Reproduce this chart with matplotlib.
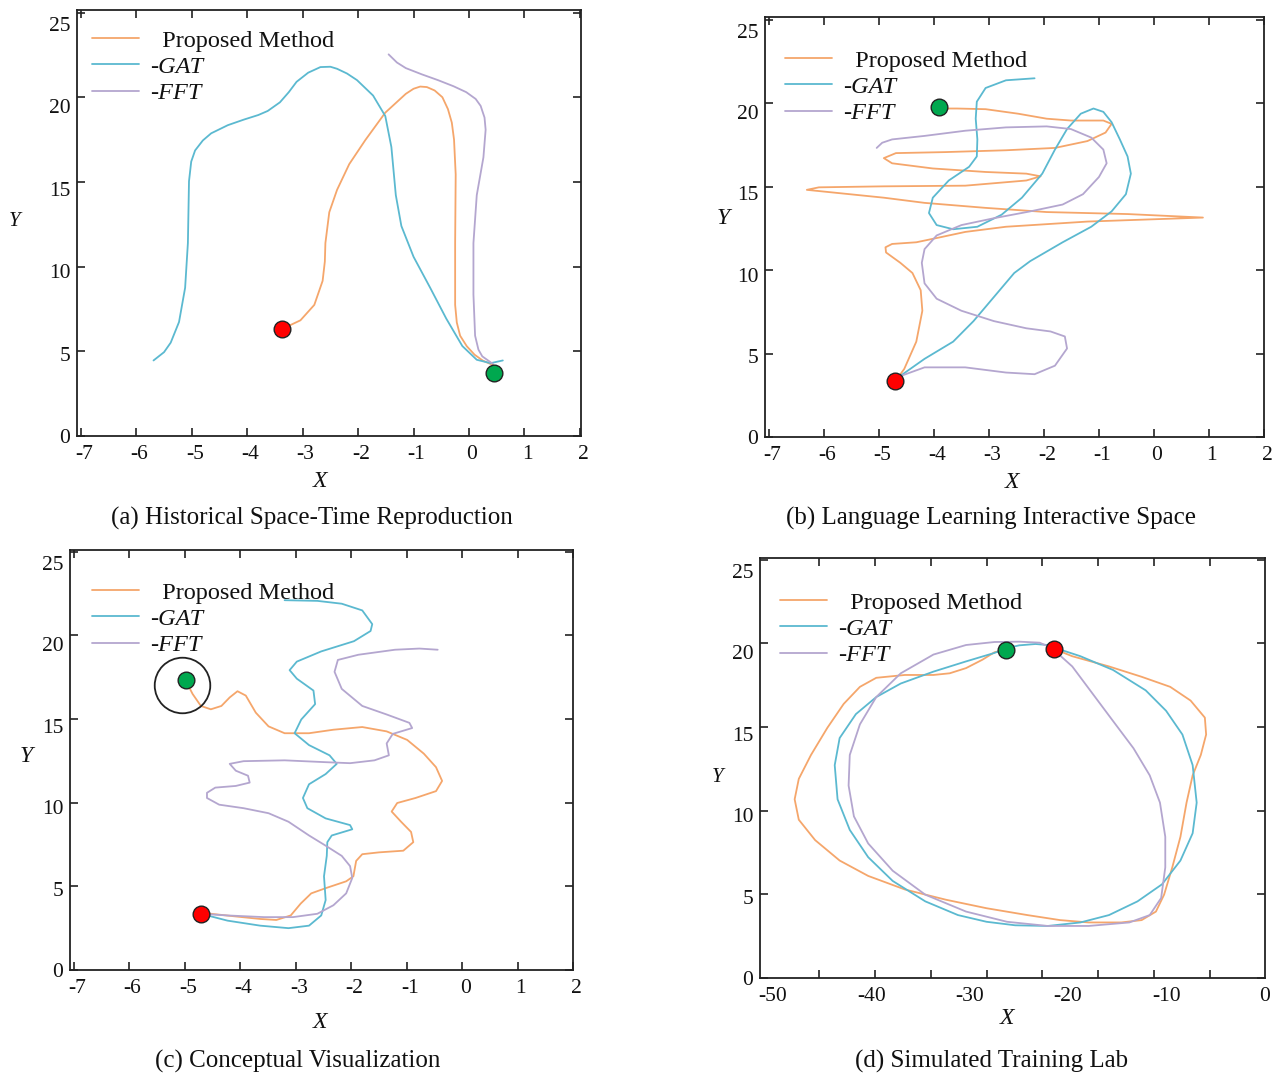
import numpy as np
import matplotlib
matplotlib.use("Agg")
import matplotlib.pyplot as plt
from matplotlib.transforms import ScaledTranslation

plt.rcParams['font.family'] = ['Liberation Serif', 'DejaVu Serif']
plt.rcParams['axes.unicode_minus'] = False

# ---------------- data ----------------
LEGEND_LABELS = ['  Proposed Method', '-GAT', '-FFT']
CAPTIONS = ['(a) Historical Space-Time Reproduction',
            '(b) Language Learning Interactive Space',
            '(c) Conceptual Visualization',
            '(d) Simulated Training Lab']
XTICKS_ABC = [-7, -6, -5, -4, -3, -2, -1, 0, 1, 2]
XTICKS_D = [-50, -40, -30, -20, -10, 0]
YTICKS = [0, 5, 10, 15, 20, 25]

# panel (a)
A_START = (-3.37, 6.32)
A_GOAL = (0.45, 3.73)
A_PROP = [(-3.37, 6.32), (-3.04, 6.83), (-2.79, 7.74), (-2.64, 9.16), (-2.60, 10.3), (-2.59, 11.39),
          (-2.52, 13.21), (-2.38, 14.53), (-2.16, 16.05), (-1.87, 17.47), (-1.51, 19.09), (-1.14, 20.20),
          (-1.00, 20.50), (-0.88, 20.63), (-0.76, 20.60), (-0.62, 20.40), (-0.48, 20.00), (-0.38, 19.30),
          (-0.31, 18.50), (-0.27, 17.50), (-0.24, 15.44), (-0.25, 11.39), (-0.25, 7.74), (-0.22, 6.70),
          (-0.16, 5.92), (-0.04, 5.30), (0.10, 4.80), (0.25, 4.45), (0.43, 4.19)]
A_GAT = [(-5.69, 4.46), (-5.50, 4.95), (-5.38, 5.51), (-5.23, 6.73), (-5.12, 8.75), (-5.07, 11.39),
         (-5.05, 15.04), (-5.01, 16.20), (-4.94, 16.86), (-4.80, 17.45), (-4.65, 17.87), (-4.35, 18.35),
         (-4.06, 18.68), (-3.80, 18.95), (-3.63, 19.19), (-3.41, 19.70), (-3.25, 20.30), (-3.11, 20.91),
         (-2.90, 21.45), (-2.68, 21.78), (-2.50, 21.80), (-2.38, 21.68), (-2.20, 21.40), (-2.02, 21.01),
         (-1.73, 20.10), (-1.51, 18.89), (-1.40, 17.06), (-1.32, 14.22), (-1.22, 12.40), (-1.00, 10.58),
         (-0.70, 8.75), (-0.41, 6.93), (-0.12, 5.31), (0.14, 4.50), (0.39, 4.30), (0.61, 4.46)]
A_FFT = [(-1.45, 22.53), (-1.30, 22.05), (-1.14, 21.72), (-0.85, 21.35), (-0.56, 21.01), (-0.28, 20.65),
         (-0.05, 20.30), (0.12, 19.90), (0.21, 19.49), (0.28, 18.80), (0.30, 18.08), (0.26, 16.45),
         (0.14, 14.22), (0.08, 11.39), (0.08, 8.35), (0.11, 5.92), (0.17, 5.10), (0.24, 4.70), (0.43, 4.26)]

# panel (b)
B_START = (-4.70, 3.35)
B_GOAL = (-3.91, 19.77)
B_PROP = [(-4.70, 3.35), (-4.54, 4.07), (-4.32, 5.71), (-4.21, 7.56), (-4.24, 8.79), (-4.39, 9.82),
          (-4.61, 10.43), (-4.87, 11.05), (-4.88, 11.36), (-4.76, 11.56), (-4.32, 11.66), (-3.87, 11.97),
          (-3.43, 12.28), (-2.69, 12.59), (-1.21, 12.90), (0.89, 13.14), (-0.48, 13.35), (-1.95, 13.47),
          (-3.06, 13.72), (-4.17, 14.02), (-4.91, 14.33), (-6.01, 14.70), (-6.31, 14.80), (-6.09, 14.95),
          (-4.91, 15.01), (-3.43, 15.05), (-2.32, 15.36), (-2.06, 15.61), (-2.32, 15.77), (-3.06, 15.87),
          (-4.02, 16.08), (-4.76, 16.39), (-4.91, 16.70), (-4.69, 17.00), (-3.80, 17.06), (-2.69, 17.17),
          (-1.80, 17.31), (-1.21, 17.72), (-0.88, 18.23), (-0.77, 18.75), (-0.92, 18.95), (-1.51, 18.95),
          (-1.95, 19.06), (-2.47, 19.36), (-3.06, 19.63), (-3.58, 19.67), (-3.84, 19.67)]
B_GAT = [(-4.70, 3.45), (-4.17, 4.68), (-3.65, 5.71), (-3.28, 6.94), (-2.91, 8.38), (-2.54, 9.82),
         (-2.25, 10.53), (-1.66, 11.66), (-1.14, 12.59), (-0.77, 13.51), (-0.51, 14.54), (-0.42, 15.77),
         (-0.48, 16.80), (-0.62, 17.82), (-0.77, 18.85), (-0.92, 19.47), (-1.10, 19.67), (-1.33, 19.36),
         (-1.58, 18.44), (-1.80, 17.21), (-2.03, 15.77), (-2.40, 14.33), (-2.77, 13.31), (-3.21, 12.59),
         (-3.65, 12.44), (-3.95, 12.69), (-4.09, 13.41), (-4.02, 14.33), (-3.73, 15.36), (-3.36, 16.18),
         (-3.22, 16.80), (-3.21, 17.82), (-3.24, 19.06), (-3.22, 20.08), (-3.06, 20.90), (-2.69, 21.36),
         (-2.17, 21.48)]
B_FFT = [(-4.69, 3.55), (-4.17, 4.17), (-3.43, 4.17), (-2.69, 3.86), (-2.17, 3.76), (-1.80, 4.27),
         (-1.58, 5.30), (-1.62, 6.02), (-1.88, 6.32), (-2.32, 6.51), (-2.91, 6.94), (-3.50, 7.56),
         (-3.95, 8.28), (-4.17, 9.20), (-4.22, 10.43), (-4.17, 11.25), (-3.95, 12.07), (-3.50, 12.69),
         (-2.91, 13.10), (-2.25, 13.51), (-1.66, 13.92), (-1.29, 14.54), (-1.00, 15.57), (-0.86, 16.39),
         (-0.92, 17.21), (-1.14, 17.93), (-1.51, 18.44), (-1.95, 18.60), (-2.69, 18.54), (-3.43, 18.34),
         (-4.17, 18.03), (-4.76, 17.82), (-4.94, 17.62), (-5.04, 17.31)]

# panel (c)
C_START = (-4.71, 3.36)
C_GOAL = (-4.97, 17.35)
C_RING = (-5.05, 17.05)
C_PROP = [(-4.97, 17.21), (-4.86, 16.50), (-4.71, 15.78), (-4.53, 15.58), (-4.34, 15.78), (-4.19, 16.29),
          (-4.05, 16.66), (-3.90, 16.40), (-3.72, 15.38), (-3.49, 14.56), (-3.20, 14.15), (-2.76, 14.15),
          (-2.32, 14.36), (-1.80, 14.52), (-1.36, 14.26), (-0.99, 13.75), (-0.69, 12.93), (-0.47, 12.12),
          (-0.36, 11.30), (-0.47, 10.69), (-0.84, 10.28), (-1.17, 9.98), (-1.27, 9.47), (-1.10, 8.86),
          (-0.92, 8.25), (-0.88, 7.64), (-1.06, 7.13), (-1.50, 7.03), (-1.80, 6.92), (-1.91, 6.52),
          (-1.96, 5.60), (-2.09, 5.30), (-2.46, 4.89), (-2.72, 4.58), (-2.91, 3.97), (-3.09, 3.26),
          (-3.35, 2.99), (-3.64, 3.05), (-4.08, 3.20), (-4.53, 3.36), (-4.71, 3.36)]
C_GAT = [(-4.71, 3.36), (-4.23, 2.95), (-3.64, 2.65), (-3.13, 2.50), (-2.76, 2.65), (-2.54, 3.26),
         (-2.46, 4.18), (-2.49, 5.60), (-2.44, 6.82), (-2.43, 7.64), (-2.35, 8.04), (-1.98, 8.41),
         (-2.02, 8.66), (-2.46, 9.06), (-2.79, 9.67), (-2.87, 10.28), (-2.76, 11.10), (-2.46, 11.71),
         (-2.26, 12.32), (-2.39, 12.83), (-2.76, 13.44), (-3.02, 14.15), (-2.90, 14.97), (-2.65, 15.89),
         (-2.68, 16.70), (-2.98, 17.41), (-3.11, 17.92), (-2.98, 18.43), (-2.54, 19.04), (-1.95, 19.65),
         (-1.65, 20.26), (-1.62, 20.67), (-1.80, 21.49), (-2.17, 21.89), (-2.61, 22.06), (-3.20, 22.10)]
C_FFT = [(-4.71, 3.36), (-4.23, 3.26), (-3.57, 3.16), (-3.05, 3.16), (-2.61, 3.36), (-2.32, 3.87),
         (-2.09, 4.58), (-1.98, 5.50), (-2.02, 6.21), (-2.17, 6.82), (-2.46, 7.43), (-2.76, 8.04),
         (-3.13, 8.86), (-3.49, 9.37), (-3.94, 9.67), (-4.38, 9.88), (-4.60, 10.28), (-4.60, 10.59),
         (-4.45, 10.90), (-4.08, 11.00), (-3.83, 11.20), (-3.86, 11.61), (-4.08, 11.91), (-4.19, 12.32),
         (-3.94, 12.48), (-3.20, 12.53), (-2.46, 12.42), (-2.02, 12.36), (-1.58, 12.53), (-1.32, 12.83),
         (-1.36, 13.54), (-1.25, 14.11), (-0.90, 14.46), (-0.95, 14.77), (-1.36, 15.27), (-1.80, 15.78),
         (-2.17, 16.80), (-2.30, 17.82), (-2.24, 18.53), (-1.87, 18.84), (-1.21, 19.14), (-0.77, 19.21),
         (-0.44, 19.14)]

# panel (d)
D_START = (-21.44, 19.67)
D_GOAL = (-26.29, 19.63)
D_PROP = [(-21.44, 19.67), (-19.58, 19.23), (-15.85, 18.62), (-12.53, 18.00), (-9.63, 17.40), (-7.56, 16.58),
          (-6.11, 15.56), (-5.98, 14.55), (-6.52, 13.33), (-7.35, 12.11), (-7.97, 10.48), (-8.59, 8.44),
          (-9.42, 6.61), (-10.25, 4.98), (-11.08, 3.97), (-12.53, 3.46), (-14.60, 3.32), (-17.92, 3.32),
          (-20.82, 3.46), (-24.14, 3.76), (-28.29, 4.17), (-32.43, 4.68), (-36.58, 5.29), (-40.31, 6.10),
          (-43.21, 7.02), (-45.70, 8.24), (-47.36, 9.46), (-47.78, 10.68), (-47.36, 11.90), (-46.12, 13.33),
          (-44.46, 14.95), (-42.80, 16.38), (-41.15, 17.40), (-39.49, 17.94), (-36.58, 18.11), (-33.68, 18.11),
          (-32.03, 18.21), (-30.37, 18.52), (-28.71, 19.02), (-27.47, 19.47), (-26.29, 19.63)]
D_GAT = [(-21.44, 19.75), (-18.75, 19.23), (-15.44, 18.41), (-12.12, 17.19), (-10.05, 15.97), (-8.39, 14.55),
         (-7.35, 12.72), (-6.94, 10.48), (-7.35, 8.65), (-8.59, 7.02), (-10.46, 5.60), (-12.95, 4.58),
         (-15.85, 3.76), (-18.75, 3.32), (-22.07, 3.11), (-25.38, 3.15), (-28.29, 3.36), (-31.19, 3.76),
         (-34.51, 4.58), (-37.82, 5.80), (-40.31, 7.22), (-42.18, 8.85), (-43.42, 10.68), (-43.71, 12.72),
         (-43.21, 14.34), (-41.56, 15.77), (-39.49, 16.79), (-37.00, 17.60), (-33.68, 18.31), (-30.37, 18.92),
         (-27.47, 19.43), (-26.29, 19.70), (-24.97, 19.88), (-23.31, 19.96), (-22.07, 19.90), (-21.44, 19.75)]
D_FFT = [(-21.44, 19.60), (-19.58, 18.62), (-17.51, 16.99), (-15.44, 15.36), (-13.36, 13.73), (-11.71, 12.11),
         (-10.67, 10.48), (-10.13, 8.44), (-10.13, 6.61), (-10.55, 4.78), (-11.71, 3.76), (-13.78, 3.32),
         (-17.92, 3.11), (-22.07, 3.11), (-26.21, 3.36), (-30.37, 3.97), (-34.51, 4.98), (-37.82, 6.41),
         (-40.31, 8.04), (-41.76, 9.66), (-42.30, 11.50), (-42.18, 13.33), (-41.15, 15.16), (-39.49, 16.79),
         (-37.00, 18.21), (-33.68, 19.33), (-30.37, 19.90), (-27.47, 20.08), (-24.97, 20.10), (-22.90, 20.04),
         (-21.44, 19.67)]

# ---------------- style / layout ----------------
COL_PROP = '#F5A66B'
COL_GAT = '#5BB9D0'
COL_FFT = '#B4A6CF'
COL_RED = '#FF0000'
COL_GREEN = '#00A84F'
INK = '#222222'
W, H = 1277, 1077

panels = [
    dict(box=(77, 10, 581, 436), xlim=(-7.07, 2.02), ytop=25.15, xt=XTICKS_ABC, series=(A_PROP, A_GAT, A_FFT),
         start=A_START, goal=A_GOAL, ring=None, leg=(92, 40), X=(320, 481), Y=(15, 222), ysz=15,
         cap=(312, 518)),
    dict(box=(765, 17, 1264, 437), xlim=(-7.07, 2.0), ytop=25.15, xt=XTICKS_ABC, series=(B_PROP, B_GAT, B_FFT),
         start=B_START, goal=B_GOAL, ring=None, leg=(785, 60), X=(1012, 483), Y=(723, 218), ysz=17,
         cap=(991, 518)),
    dict(box=(70, 550, 573, 970), xlim=(-7.07, 2.0), ytop=25.1, xt=XTICKS_ABC, series=(C_PROP, C_GAT, C_FFT),
         start=C_START, goal=C_GOAL, ring=C_RING, leg=(92, 592), X=(320, 1022), Y=(26, 756), ysz=17,
         cap=(298, 1061)),
    dict(box=(760, 558, 1265, 978), xlim=(-51.3, 0.0), ytop=25.1, xt=XTICKS_D, series=(D_PROP, D_GAT, D_FFT),
         start=D_START, goal=D_GOAL, ring=None, leg=(780, 602), X=(1007, 1018), Y=(718, 778), ysz=15,
         cap=(992, 1061)),
]

fig = plt.figure(figsize=(W / 100, H / 100), dpi=100)

for i, p in enumerate(panels):
    l, t, r, b = p['box']
    ax = fig.add_axes([l / W, 1 - b / H, (r - l) / W, (b - t) / H])
    for pts, col, lab in zip(p['series'], (COL_PROP, COL_GAT, COL_FFT), LEGEND_LABELS):
        arr = np.array(pts)
        ax.plot(arr[:, 0], arr[:, 1], color=col, lw=1.3, label=lab, zorder=2,
                solid_joinstyle='round', solid_capstyle='round')
    ax.plot([p['start'][0]], [p['start'][1]], 'o', ms=12, mfc=COL_RED, mec=INK, mew=1.0, zorder=5)
    ax.plot([p['goal'][0]], [p['goal'][1]], 'o', ms=12, mfc=COL_GREEN, mec=INK, mew=1.0, zorder=5)
    if p['ring'] is not None:
        ax.plot([p['ring'][0]], [p['ring'][1]], 'o', ms=40, mfc='none', mec=INK, mew=1.3, zorder=4)

    ax.set_xlim(*p['xlim'])
    ax.set_ylim(0, p['ytop'])
    ax.set_xticks(p['xt'])
    ax.set_yticks(YTICKS)
    ax.set_xticklabels([str(v) for v in p['xt']])
    ax.set_yticklabels([str(v) for v in YTICKS])
    ax.tick_params(axis='both', which='major', direction='in', length=6, width=1.2, color=INK,
                   top=True, right=True, labelsize=15.5, labelcolor='#111111')
    ax.tick_params(axis='x', which='major', pad=6.6)
    ax.tick_params(axis='y', which='major', pad=4.8)
    if i == 3:
        x0, x1 = p['xlim']
        ax.set_xticks(np.linspace(x0 + 0.117 * (x1 - x0), x0 + 0.891 * (x1 - x0), 8), minor=True)
        ax.tick_params(axis='x', which='major', length=0)
        ax.tick_params(axis='x', which='minor', direction='in', length=6, width=1.2, color=INK,
                       top=True, bottom=True)
    for s in ax.spines.values():
        s.set_linewidth(1.3)
        s.set_color(INK)

    # the reference's tick labels sit slightly off their ticks
    dx = 0 if i == 3 else 3
    offx = ScaledTranslation(dx / 100, 0, fig.dpi_scale_trans)
    for lab in ax.get_xticklabels():
        lab.set_transform(lab.get_transform() + offx)
    for lab, v in zip(ax.get_yticklabels(), YTICKS):
        lab.set_transform(lab.get_transform() + ScaledTranslation(0, -0.45 * v / 100, fig.dpi_scale_trans))

    hx, hy = p['leg']
    leg = ax.legend(loc='upper left', bbox_to_anchor=(hx / W, 1 - (hy - 10.5) / H),
                    bbox_transform=fig.transFigure, frameon=False, borderpad=0, borderaxespad=0,
                    handlelength=1.93, handletextpad=0.45, labelspacing=0.18, fontsize=17.5)
    for k, txt in enumerate(leg.get_texts()):
        txt.set_color('#111111')
        if k > 0:
            txt.set_fontstyle('italic')

    fig.text(p['X'][0] / W, 1 - p['X'][1] / H, 'X', style='italic', fontsize=17,
             ha='center', va='center', color='#111111')
    fig.text(p['Y'][0] / W, 1 - p['Y'][1] / H, 'Y', style='italic', fontsize=p['ysz'],
             ha='center', va='center', color='#111111')
    fig.text(p['cap'][0] / W, 1 - p['cap'][1] / H, CAPTIONS[i], fontsize=18,
             ha='center', va='center', color='#111111')

fig.savefig('out.png', dpi=100)
